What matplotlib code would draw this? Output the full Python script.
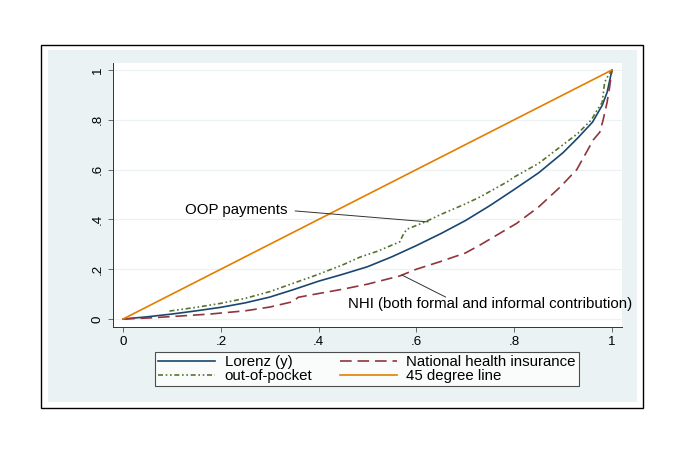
"""Concentration curves: Lorenz, OOP payments and NHI contributions vs 45 degree line."""

import matplotlib
matplotlib.use('Agg')
import matplotlib.pyplot as plt
from matplotlib.patches import Rectangle

plt.rcParams['font.family'] = ['Liberation Sans', 'DejaVu Sans']

# cumulative population share (x) and cumulative shares (y)
lorenz_x = [0, 0.05, 0.1, 0.15, 0.2, 0.25, 0.3, 0.35, 0.4, 0.45, 0.5, 0.55, 0.6,
            0.65, 0.7, 0.75, 0.8, 0.85, 0.9, 0.93, 0.96, 0.98, 0.99, 1.0]
lorenz_y = [0, 0.009, 0.02, 0.033, 0.047, 0.065, 0.088, 0.119, 0.152, 0.18, 0.21,
            0.25, 0.295, 0.343, 0.395, 0.455, 0.52, 0.587, 0.668, 0.727, 0.79,
            0.858, 0.91, 1.0]

oop_x = [0.095, 0.15, 0.2, 0.25, 0.3, 0.35, 0.382, 0.4, 0.45, 0.485, 0.52, 0.566,
         0.572, 0.58, 0.618, 0.65, 0.7, 0.73, 0.785, 0.8, 0.85, 0.9, 0.93, 0.958,
         0.97, 0.98, 0.985, 0.99, 1.0]
oop_y = [0.032, 0.047, 0.063, 0.083, 0.11, 0.145, 0.167, 0.18, 0.218, 0.249,
         0.272, 0.31, 0.335, 0.36, 0.39, 0.42, 0.462, 0.49, 0.55, 0.57, 0.625,
         0.7, 0.745, 0.8, 0.84, 0.87, 0.95, 0.97, 1.0]

nhi_x = [0, 0.05, 0.1, 0.178, 0.25, 0.3, 0.348, 0.358, 0.382, 0.45, 0.5, 0.566,
         0.6, 0.648, 0.7, 0.73, 0.805, 0.85, 0.894, 0.928, 0.962, 0.975, 0.982,
         0.99, 0.995, 1.0]
nhi_y = [0, 0.004, 0.01, 0.02, 0.033, 0.048, 0.07, 0.087, 0.096, 0.12, 0.14,
         0.173, 0.2, 0.23, 0.265, 0.297, 0.384, 0.45, 0.53, 0.6, 0.72, 0.75,
         0.8, 0.87, 0.93, 1.0]

diag = [0, 1]

tick_vals = [0, 0.2, 0.4, 0.6, 0.8, 1]
tick_labels = ['0', '.2', '.4', '.6', '.8', '1']

W, H = 685, 449
bg = '#EAF2F3'
txt_size = 10.8

fig = plt.figure(figsize=(W / 100, H / 100), dpi=100)
fig.patch.set_facecolor('white')

# stata style graph region: black frame with light bluish panel inside
fig.add_artist(Rectangle((41 / W, 1 - 408 / H), 602 / W, 363 / H,
                         transform=fig.transFigure, facecolor='white',
                         edgecolor='black', lw=1.0, zorder=0))
fig.add_artist(Rectangle((48 / W, 1 - 402 / H), 589 / W, 352 / H,
                         transform=fig.transFigure, facecolor=bg,
                         edgecolor='none', zorder=0))

ax = fig.add_axes([113 / W, 1 - 327 / H, 509 / W, 264 / H])
ax.set_facecolor('white')

ax.plot(lorenz_x, lorenz_y, color='#1A476F', lw=1.2, label='Lorenz (y)')
ax.plot(oop_x, oop_y, color='#55752F', lw=1.2, dashes=(3, 1.6, 1, 1.6, 1, 1.6),
        label='out-of-pocket')
ax.plot(nhi_x, nhi_y, color='#90353B', lw=1.2, dashes=(7, 3.5),
        label='National health insurance')
ax.plot(diag, diag, color='#E37E00', lw=1.2, label='45 degree line')

ax.set_xlim(-0.0205, 1.0205)
ax.set_ylim(-0.032, 1.028)
ax.set_xticks(tick_vals)
ax.set_xticklabels(tick_labels)
ax.set_yticks(tick_vals)
ax.set_yticklabels(tick_labels, rotation=90, va='center')
ax.tick_params(length=3.5, width=0.6, color='#555555', labelsize=9.6, pad=3)
ax.grid(axis='y', color=bg, lw=0.9)
ax.set_axisbelow(True)
for s in ['top', 'right']:
    ax.spines[s].set_visible(False)
for s in ['left', 'bottom']:
    ax.spines[s].set_color('#333333')
    ax.spines[s].set_linewidth(0.7)

# labels with pointer lines
ptr = dict(arrowstyle='-', color='#333333', lw=0.7, shrinkA=0, shrinkB=0)
ax.text(0.127, 0.438, 'OOP payments', fontsize=txt_size, va='center', ha='left')
ax.annotate('', xy=(0.624, 0.39), xytext=(0.352, 0.434), arrowprops=ptr)
ax.text(0.46, 0.06, 'NHI (both formal and informal contribution)',
        fontsize=txt_size, va='center', ha='left')
ax.annotate('', xy=(0.57, 0.177), xytext=(0.66, 0.088), arrowprops=ptr)

leg = fig.legend(handles=ax.get_lines(), ncol=2, loc='upper left',
                 bbox_to_anchor=(155 / W, 1 - 352 / H),
                 fontsize=txt_size, frameon=True, fancybox=False, borderpad=0.2,
                 handlelength=3.8, handletextpad=0.65, labelspacing=0.0,
                 columnspacing=1.8, borderaxespad=0)
leg.get_frame().set_edgecolor('#222222')
leg.get_frame().set_linewidth(0.8)

fig.savefig('out.png', dpi=100, facecolor='white')
